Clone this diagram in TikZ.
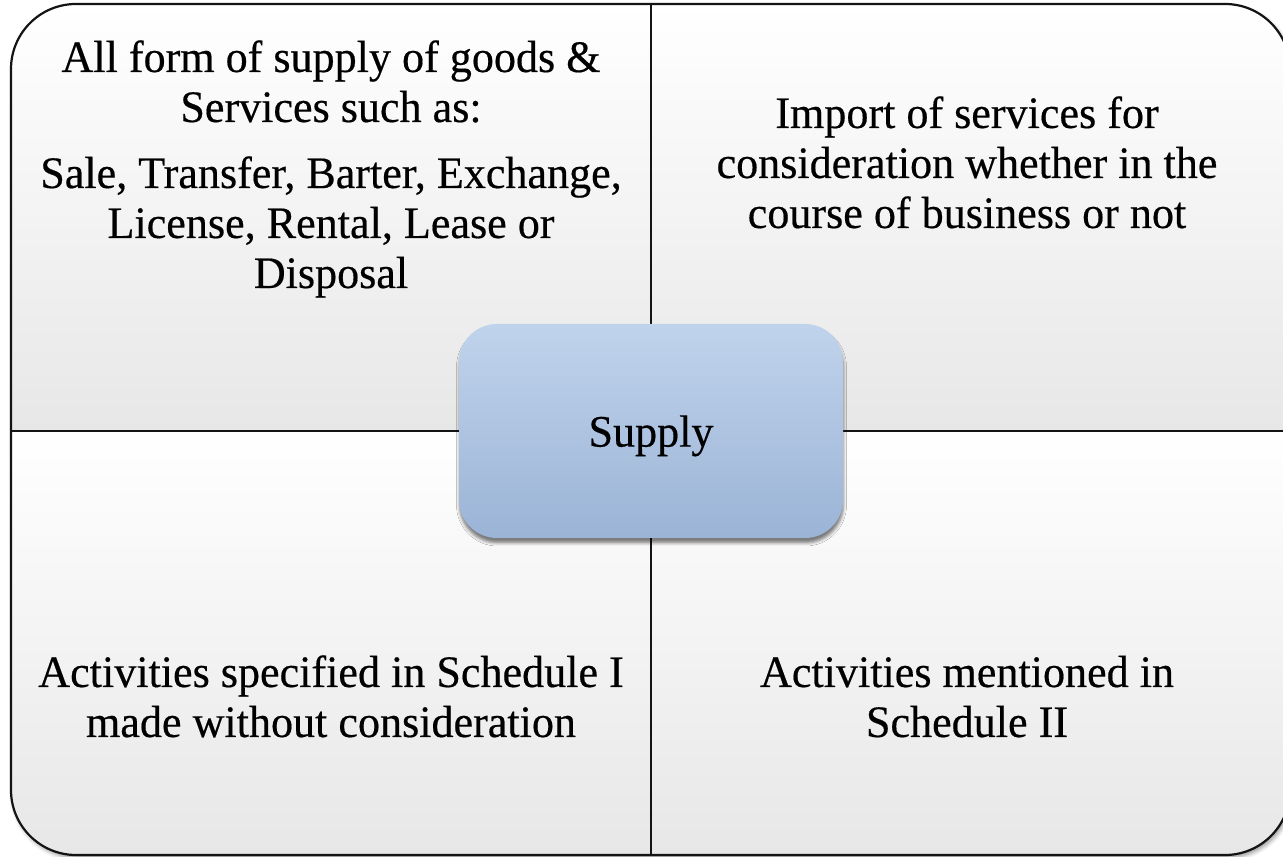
\documentclass[tikz,border=0pt]{standalone}
\usepackage{fontspec}
\setmainfont[FakeStretch=0.98, FakeBold=0.4]{Liberation Serif}
\usetikzlibrary{shadows.blur}

\definecolor{quadtop}{HTML}{FFFFFF}
\definecolor{quadbot}{HTML}{E7E7E7}
\definecolor{hubtop}{HTML}{C0D3EC}
\definecolor{hubbot}{HTML}{9BB4D6}

\begin{document}
\begin{tikzpicture}[x=1pt,y=1pt,
  frame/.style={line width=2.2pt, draw=black!92},
  divider/.style={line width=1.8pt, draw=black!92},
  quad/.style={top color=quadtop, bottom color=quadbot, draw=none},
  quadtext/.style={align=center, font=\fontsize{45}{50}\selectfont, inner sep=0pt, anchor=base},
  hub/.style={rounded corners=38pt, minimum width=384pt, minimum height=214pt,
    top color=hubtop, bottom color=hubbot, draw=none, inner sep=0pt,
    font=\fontsize{45}{50}\selectfont, text depth=0pt,
    blur shadow={shadow xshift=0.5pt, shadow yshift=-5pt, shadow blur radius=3pt, shadow opacity=50}}
]
\useasboundingbox (0,0) rectangle (1283,857);

% frame geometry
\coordinate (sw) at (11,2);
\coordinate (ne) at (1290,853);
\coordinate (top) at (651,853);
\coordinate (bot) at (651,2);
\coordinate (lft) at (11,426);
\coordinate (rgt) at (1290,426);

% soft shadow behind the whole frame
\path[fill=white, rounded corners=65pt,
  blur shadow={shadow xshift=2pt, shadow yshift=-3pt, shadow blur radius=4pt, shadow opacity=40}]
  (sw) rectangle (ne);

% four shaded quadrants, each with one rounded outer corner
\shade[quad] (11,426) -- (11,788) arc[start angle=180, end angle=90, radius=65] -- (651,853) -- (651,426) -- cycle;
\shade[quad] (651,426) -- (651,853) -- (1225,853) arc[start angle=90, end angle=0, radius=65] -- (1290,426) -- cycle;
\shade[quad] (11,426) -- (651,426) -- (651,2) -- (76,2) arc[start angle=270, end angle=180, radius=65] -- cycle;
\shade[quad] (651,426) -- (1290,426) -- (1290,67) arc[start angle=0, end angle=-90, radius=65] -- (651,2) -- cycle;

% outline and dividers
\draw[frame, rounded corners=65pt] (sw) rectangle (ne);
\draw[divider] (bot) -- (top);
\draw[divider] (lft) -- (rgt);

% quadrant texts (anchored at the baseline of their last line)
\node[quadtext] (forms) at (331,569) {All form of supply of goods \&\\Services such as:\\[16pt]Sale, Transfer, Barter, Exchange,\\License, Rental, Lease or\\Disposal};
\node[quadtext] (import) at (967,629) {Import of services for\\consideration whether in the\\course of business or not};
\node[quadtext] (sched1) at (331,120) {Activities specified in Schedule I\\made without consideration};
\node[quadtext] (sched2) at (967,120) {Activities mentioned in\\Schedule II};

% central hub
\node[hub] (supply) at (651,426) {Supply};
\end{tikzpicture}
\end{document}
